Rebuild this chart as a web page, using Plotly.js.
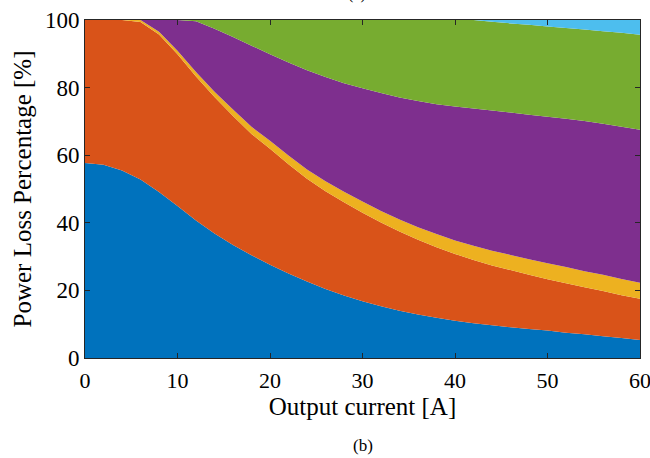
<!DOCTYPE html>
<html>
<head>
<meta charset="utf-8">
<script src="https://cdn.plot.ly/plotly-3.0.1.min.js"></script>
<style>
  html, body { margin: 0; padding: 0; background: #ffffff; }
  #chart { width: 650px; height: 458px; }
</style>
</head>
<body>
<div id="chart"></div>
<script>
// Output current [A]
const current = [0, 2, 4, 6, 8, 10, 12, 14, 16, 18, 20, 22, 24, 26, 28, 30,
                 32, 34, 36, 38, 40, 42, 44, 46, 48, 50, 52, 54, 56, 58, 60];

// Power loss share of each component [%] (stacked bottom to top)
const lossBlue   = [57.7, 57.2, 55.5, 52.8, 49.1, 45.0, 40.7, 36.8, 33.4, 30.4, 27.6, 25.0, 22.6, 20.4, 18.5, 16.8,
                    15.3, 14.0, 12.9, 11.9, 11.0, 10.3, 9.7, 9.1, 8.6, 8.1, 7.5, 7.0, 6.4, 5.9, 5.3];
const lossOrange = [42.3, 42.8, 44.5, 46.6, 46.6, 44.9, 42.6, 40.4, 38.2, 35.9, 34.3, 32.3, 30.4, 28.9, 27.6, 26.2,
                    24.8, 23.4, 22.1, 20.9, 19.8, 18.7, 17.7, 16.9, 16.0, 15.2, 14.6, 13.9, 13.4, 12.7, 12.2];
const lossYellow = [0, 0, 0, 0.6, 0.8, 1.0, 1.3, 1.6, 1.9, 2.1, 2.4, 2.6, 2.8, 3.0, 3.1, 3.3,
                    3.4, 3.6, 3.7, 3.9, 4.0, 4.2, 4.3, 4.5, 4.6, 4.7, 4.8, 4.8, 4.8, 4.8, 4.8];
const lossPurple = [0, 0, 0, 0, 3.5, 9.1, 15.0, 18.6, 21.5, 24.0, 25.6, 27.5, 29.3, 30.8, 32.1, 33.5,
                    34.9, 36.1, 37.3, 38.4, 39.6, 40.6, 41.5, 42.1, 42.8, 43.4, 43.9, 44.4, 44.7, 45.0, 45.2];
const lossGreen  = [0, 0, 0, 0, 0, 0, 0.4, 2.6, 5.0, 7.6, 10.1, 12.6, 14.9, 16.9, 18.7, 20.2,
                    21.6, 22.9, 24.0, 24.9, 25.6, 26.2, 26.3, 26.4, 26.6, 26.7, 26.8, 27.1, 27.4, 27.8, 28.1];
const lossCyan   = [0, 0, 0, 0, 0, 0, 0, 0, 0, 0, 0, 0, 0, 0, 0, 0,
                    0, 0, 0, 0, 0, 0, 0.5, 1.0, 1.4, 1.9, 2.4, 2.8, 3.3, 3.8, 4.4];

const xTicks = [0, 10, 20, 30, 40, 50, 60];
const yTicks = [0, 20, 40, 60, 80, 100];

const series = [
  {y: lossBlue,   color: '#0072BD'},
  {y: lossOrange, color: '#D95319'},
  {y: lossYellow, color: '#EDB120'},
  {y: lossPurple, color: '#7E2F8E'},
  {y: lossGreen,  color: '#77AC30'},
  {y: lossCyan,   color: '#4DBEEE'}
];

const traces = series.map(s => ({
  type: 'scatter',
  x: current,
  y: s.y,
  stackgroup: 'one',
  mode: 'none',
  fillcolor: s.color,
  hoverinfo: 'skip',
  showlegend: false
}));

const serif = 'Liberation Serif, Times New Roman, serif';

const layout = {
  width: 650,
  height: 458,
  margin: {l: 85, r: 10, t: 20, b: 100},
  paper_bgcolor: '#ffffff',
  plot_bgcolor: '#ffffff',
  showlegend: false,
  font: {family: serif, color: '#000000', size: 23},
  xaxis: {
    range: [0, 60],
    tickvals: xTicks,
    ticktext: xTicks.map(String),
    ticks: 'inside',
    ticklen: 5,
    tickcolor: '#262626',
    showline: true,
    linecolor: '#262626',
    linewidth: 1,
    mirror: 'ticks',
    showgrid: false,
    zeroline: false,
    tickfont: {family: serif, size: 22, color: '#000'},
    ticklabelstandoff: 3,
    ticklabeloverflow: 'allow',
    title: {text: 'Output current [A]', font: {family: serif, size: 25, color: '#000'}, standoff: 3}
  },
  yaxis: {
    range: [0, 100],
    tickvals: yTicks,
    ticktext: yTicks.map(String),
    ticks: 'inside',
    ticklen: 5,
    tickcolor: '#262626',
    showline: true,
    linecolor: '#262626',
    linewidth: 1,
    mirror: 'ticks',
    showgrid: false,
    zeroline: false,
    tickfont: {family: serif, size: 23, color: '#000'},
    ticklabeloverflow: 'allow',
    title: {text: 'Power Loss Percentage [%]', font: {family: serif, size: 25, color: '#000'}, standoff: 6}
  },
  annotations: [
    {text: '(a)', xref: 'paper', yref: 'paper', x: 0.49, y: 1.045, xanchor: 'center', yanchor: 'bottom',
     showarrow: false, font: {family: serif, size: 16, color: '#000'}},
    {text: '(b)', xref: 'paper', yref: 'paper', x: 0.5, y: -0.26, xanchor: 'center', yanchor: 'middle',
     showarrow: false, font: {family: serif, size: 17, color: '#000'}}
  ]
};

Plotly.newPlot('chart', traces, layout, {displayModeBar: false, staticPlot: true});
</script>
</body>
</html>
